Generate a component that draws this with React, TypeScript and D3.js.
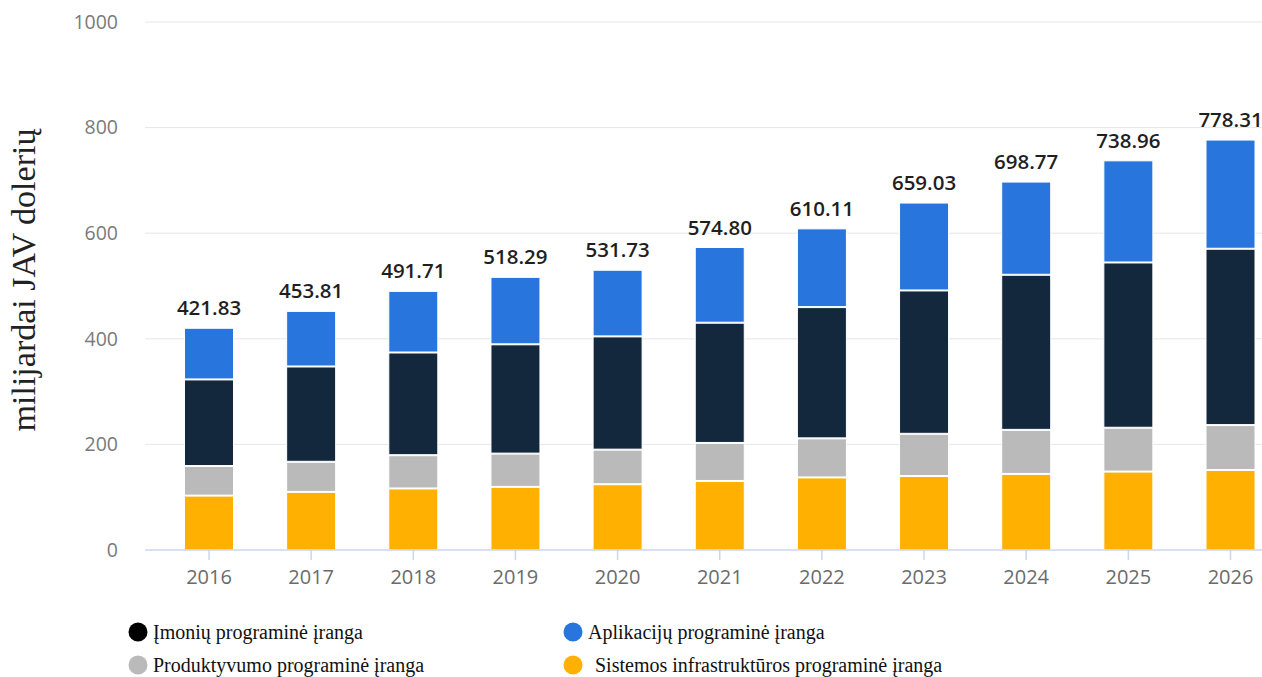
import React from "react";
import * as d3 from "d3";

const years = ["2016","2017","2018","2019","2020","2021","2022","2023","2024","2025","2026"];
const totals = [421.83, 453.81, 491.71, 518.29, 531.73, 574.80, 610.11, 659.03, 698.77, 738.96, 778.31];
const sistemos = [104, 111, 117.5, 120.5, 125.5, 131.7, 138.4, 141, 145, 149.5, 152.5];
const produktyvumo = [56, 57, 63, 63, 65.5, 72, 74, 80, 83.5, 83, 85];
const imoniu = [164, 180.5, 194.5, 207, 214.5, 227.7, 248.6, 271.5, 293.7, 313, 334];
const aplikaciju = totals.map((t, i) => +(t - sistemos[i] - produktyvumo[i] - imoniu[i]).toFixed(2));
const yTicks = [0, 200, 400, 600, 800, 1000];

const seriesKeys = ["sistemos", "produktyvumo", "imoniu", "aplikaciju"];
const seriesColors: Record<string, string> = {
  sistemos: "#ffb000",
  produktyvumo: "#bababa",
  imoniu: "#13273d",
  aplikaciju: "#2876dd",
};
const legendItems = [
  { label: "Įmonių programinė įranga", color: "#000000", col: 0, row: 0 },
  { label: "Aplikacijų programinė įranga", color: "#2876dd", col: 1, row: 0 },
  { label: "Produktyvumo programinė įranga", color: "#bababa", col: 0, row: 1 },
  { label: "Sistemos infrastruktūros programinė įranga", color: "#ffb000", col: 1, row: 1 },
];

export default function App() {
  const W = 1262, H = 677;
  const rows = years.map((y, i) => ({
    year: y,
    sistemos: sistemos[i],
    produktyvumo: produktyvumo[i],
    imoniu: imoniu[i],
    aplikaciju: aplikaciju[i],
  }));
  const stack = d3.stack<any>().keys(seriesKeys)(rows);
  const x = d3.scalePoint<string>().domain(years).range([209, 1230.5]);
  const y = d3.scaleLinear().domain([0, 1000]).range([550, 22]);
  const barW = 49;
  const font = "'Open Sans', 'DejaVu Sans', sans-serif";
  const serif = "'Liberation Serif', 'Times New Roman', serif";

  return (
    <svg width={W} height={H} style={{ position: "absolute", left: 0, top: 0, background: "#fff" }}>
      {yTicks.map((t) => (
        <g key={t}>
          {t !== 0 && (
            <line x1={145} x2={1262} y1={y(t)} y2={y(t)} stroke="#e6e6e6" strokeWidth={1} />
          )}
          <text x={118} y={y(t)} dy="0.35em" textAnchor="end" fontFamily={font} fontSize={19.5} fill="#7a7a7a">
            {t}
          </text>
        </g>
      ))}
      {stack.map((s) => (
        <g key={s.key} fill={seriesColors[s.key]}>
          {s.map((d, i) => (
            <rect
              key={i}
              x={(x(years[i]) as number) - barW / 2}
              y={y(d[1]) + 1}
              width={barW}
              height={Math.max(0, y(d[0]) - y(d[1]) - 1)}
              stroke="#ffffff"
              strokeWidth={1}
            />
          ))}
        </g>
      ))}
      <line x1={145} x2={1262} y1={y(0)} y2={y(0)} stroke="#ccd6eb" strokeWidth={1.5} />
      {years.map((yr) => (
        <g key={yr}>
          <line x1={x(yr)} x2={x(yr)} y1={y(0)} y2={y(0) + 10} stroke="#ccd6eb" strokeWidth={1.5} />
          <text x={x(yr)} y={577} dy="0.36em" textAnchor="middle" fontFamily={font} fontSize={20} fill="#6b6b6b">
            {yr}
          </text>
        </g>
      ))}
      {totals.map((t, i) => (
        <text
          key={i}
          x={x(years[i])}
          y={y(t) - 12}
          textAnchor="middle"
          fontFamily={font}
          fontWeight={600}
          fontSize={20.5}
          fill="#1f1f1f"
        >
          {t.toFixed(2)}
        </text>
      ))}
      <text
        transform={`translate(35,280) rotate(-90)`}
        textAnchor="middle"
        fontFamily={serif}
        fontSize={34}
        fill="#222"
      >
        milijardai JAV dolerių
      </text>
      {legendItems.map((it) => {
        const cx = it.col === 0 ? 138 : 573;
        const cy = it.row === 0 ? 632 : 665;
        return (
          <g key={it.label}>
            <circle cx={cx} cy={cy} r={9.5} fill={it.color} />
            <text
              x={cx + (it.label.startsWith("Sistemos") ? 22 : 15)}
              y={cy}
              dy="0.33em"
              fontFamily={serif}
              fontSize={20}
              fill="#111"
            >
              {it.label}
            </text>
          </g>
        );
      })}
    </svg>
  );
}
